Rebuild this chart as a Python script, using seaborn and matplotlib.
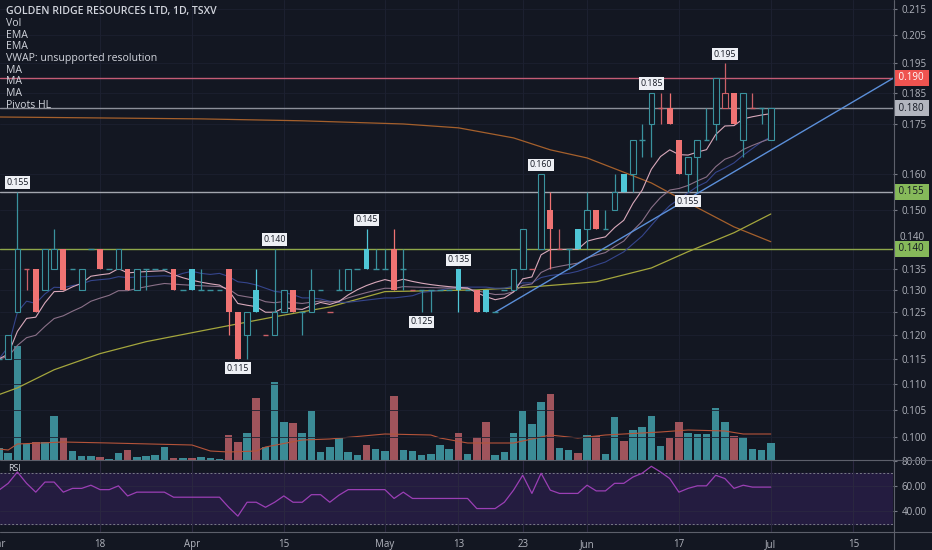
import numpy as np
import pandas as pd
import matplotlib
matplotlib.use('Agg')
import matplotlib.pyplot as plt
from matplotlib.lines import Line2D
from matplotlib.ticker import FixedLocator, NullLocator, FuncFormatter
import matplotlib.transforms as mtransforms
import seaborn as sns

# GOLDEN RIDGE RESOURCES (TSXV), daily bars 1 Mar - 2 Jul 2019, one entry per trading day
opens = [0.115, 0.115, 0.125, 0.135, 0.135, 0.130, 0.135, 0.140, 0.135, 0.130,
         0.140, 0.140, 0.135, 0.135, 0.135, 0.130, 0.135, 0.135, 0.135, 0.135,
         0.130, 0.135, 0.130, 0.130, 0.130, 0.135, 0.125, 0.120, 0.130, 0.120,
         0.120, 0.125, 0.130, 0.125, 0.125, 0.130, 0.125, 0.130, 0.130, 0.135,
         0.140, 0.135, 0.135, 0.140, 0.135, 0.130, 0.130, 0.130, 0.130, 0.130,
         0.135, 0.130, 0.130, 0.130, 0.125, 0.130, 0.130, 0.135, 0.135, 0.140,
         0.150, 0.140, 0.140, 0.145, 0.145, 0.150, 0.145, 0.150, 0.160, 0.160,
         0.170, 0.175, 0.180, 0.180, 0.170, 0.160, 0.165, 0.170, 0.175, 0.180,
         0.185, 0.170, 0.180, 0.180, 0.170]
highs = [0.115, 0.120, 0.155, 0.135, 0.135, 0.140, 0.145, 0.140, 0.135, 0.135,
         0.140, 0.140, 0.135, 0.140, 0.135, 0.135, 0.135, 0.135, 0.135, 0.135,
         0.130, 0.135, 0.135, 0.130, 0.130, 0.135, 0.125, 0.125, 0.135, 0.120,
         0.140, 0.130, 0.130, 0.125, 0.135, 0.130, 0.125, 0.135, 0.135, 0.135,
         0.145, 0.140, 0.140, 0.145, 0.140, 0.130, 0.130, 0.130, 0.130, 0.130,
         0.135, 0.130, 0.130, 0.130, 0.125, 0.130, 0.135, 0.145, 0.135, 0.160,
         0.155, 0.145, 0.140, 0.145, 0.155, 0.150, 0.150, 0.160, 0.160, 0.170,
         0.175, 0.185, 0.185, 0.185, 0.170, 0.165, 0.170, 0.180, 0.190, 0.195,
         0.185, 0.185, 0.185, 0.180, 0.180]
lows = [0.115, 0.115, 0.125, 0.130, 0.125, 0.130, 0.135, 0.130, 0.135, 0.130,
        0.140, 0.135, 0.135, 0.135, 0.130, 0.130, 0.130, 0.135, 0.135, 0.130,
        0.130, 0.130, 0.130, 0.130, 0.130, 0.120, 0.115, 0.115, 0.125, 0.120,
        0.120, 0.125, 0.125, 0.120, 0.125, 0.130, 0.125, 0.130, 0.130, 0.135,
        0.135, 0.135, 0.135, 0.130, 0.130, 0.130, 0.125, 0.125, 0.130, 0.130,
        0.125, 0.130, 0.125, 0.125, 0.125, 0.130, 0.130, 0.135, 0.135, 0.140,
        0.135, 0.140, 0.135, 0.140, 0.140, 0.145, 0.145, 0.150, 0.155, 0.155,
        0.165, 0.165, 0.175, 0.175, 0.160, 0.155, 0.155, 0.170, 0.170, 0.180,
        0.175, 0.165, 0.180, 0.175, 0.170]
closes = [0.115, 0.120, 0.140, 0.135, 0.125, 0.140, 0.140, 0.130, 0.135, 0.135,
          0.140, 0.135, 0.135, 0.140, 0.130, 0.135, 0.135, 0.135, 0.135, 0.130,
          0.130, 0.130, 0.130, 0.130, 0.130, 0.125, 0.115, 0.125, 0.125, 0.120,
          0.125, 0.130, 0.125, 0.125, 0.130, 0.130, 0.125, 0.130, 0.135, 0.135,
          0.135, 0.135, 0.135, 0.130, 0.135, 0.130, 0.130, 0.130, 0.130, 0.130,
          0.130, 0.130, 0.125, 0.125, 0.125, 0.130, 0.135, 0.145, 0.135, 0.160,
          0.145, 0.140, 0.140, 0.140, 0.150, 0.145, 0.145, 0.155, 0.155, 0.170,
          0.170, 0.185, 0.180, 0.175, 0.160, 0.165, 0.170, 0.170, 0.190, 0.185,
          0.175, 0.185, 0.180, 0.180, 0.180]
# volume, thousands of shares
volume = [120, 70, 1140, 160, 180, 180, 440, 230, 90, 40,
          40, 30, 15, 70, 100, 30, 40, 50, 130, 20,
          20, 20, 35, 20, 15, 250, 180, 270, 620, 130,
          780, 380, 370, 270, 490, 80, 130, 220, 80, 50,
          150, 110, 90, 640, 100, 95, 50, 60, 150, 110,
          270, 60, 230, 380, 50, 80, 270, 490, 360, 580,
          660, 120, 100, 70, 250, 240, 60, 430, 190, 300,
          330, 440, 140, 220, 380, 270, 260, 260, 520, 380,
          240, 230, 110, 100, 170]
rsi = [56.6, 62, 71, 62, 55, 63, 63, 55, 58, 58,
       60.5, 57, 57, 60, 52, 55, 55, 55, 55, 51,
       51, 51, 51, 51, 51, 43, 36, 47, 47, 43,
       47, 52, 47, 47, 53, 53, 47, 52.6, 57, 57,
       57, 57, 57, 50, 55, 50, 50, 50, 50, 50,
       50, 50, 42, 42, 42, 47, 56.6, 68.4, 54, 70,
       56.6, 54, 54, 54, 60.5, 56, 56, 62, 62, 67,
       70, 75.5, 71, 65.8, 55, 58, 60, 60, 68.4, 65.8,
       58, 60.5, 59, 59, 59]

# long moving averages (day index, price)
ma50_idx = [0, 2, 6, 11, 16, 22, 30, 36, 42, 52, 58, 65, 71, 75, 80, 84]
ma50_val = [0.1079, 0.1092, 0.1128, 0.1161, 0.1186, 0.1209, 0.1240, 0.1262,
            0.1297, 0.1301, 0.1308, 0.1320, 0.1353, 0.1393, 0.1441, 0.1490]
ma200_idx = [0, 11, 22, 33, 44, 50, 56, 60, 64, 71, 75, 80, 84]
ma200_val = [0.1772, 0.1769, 0.1766, 0.1760, 0.1750, 0.1738, 0.1707, 0.1671,
             0.1647, 0.1575, 0.1520, 0.1456, 0.1418]
volma_idx = [0, 1, 2, 7, 12, 21, 23, 25, 28, 29, 33, 36, 42, 47, 48, 51, 56,
             60, 63, 66, 72, 75, 79, 81, 84]
volma_val = [110, 100, 160, 180, 170, 150, 90, 80, 90, 130, 200, 210, 260, 250,
             220, 170, 170, 250, 220, 250, 280, 300, 290, 260, 260]

# drawn levels, trendline and pivots
levels = [0.190, 0.180, 0.155, 0.140]
trend_idx = [54, 84]
trend_val = [0.125, 0.167]
pivot_idx = [2, 26, 30, 40, 46, 50, 59, 71, 75, 79]
pivot_side = ['H', 'L', 'H', 'H', 'L', 'H', 'H', 'H', 'L', 'H']

tick_idx = [0, 11, 21, 31, 42, 50, 57, 64, 74, 84, 93]
tick_lbl = ['Mar', '18', 'Apr', '15', 'May', '13', '23', 'Jun', '17', 'Jul', '15']
price_ticks = [0.095, 0.100, 0.105, 0.110, 0.115, 0.120, 0.125, 0.130, 0.135,
               0.150, 0.160, 0.175, 0.185, 0.195, 0.205, 0.215]
price_tick_shifted = 0.140   # label pushed up by the level marker
legend_lines = ['GOLDEN RIDGE RESOURCES LTD, 1D, TSXV', 'Vol', 'EMA', 'EMA',
                'VWAP: unsupported resolution', 'MA', 'MA', 'MA', 'Pivots HL']

bg = '#131722'
grid_c = '#1c2030'
txt_c = '#b2b5be'
teal_edge, teal_fill = '#3a929e', '#4fc6d6'
red_edge, red_fill = '#cc6068', '#ef7373'
vol_up, vol_dn = '#3b8b96', '#a0545c'

sns.set_style('dark')
plt.rcParams['font.family'] = ['Open Sans', 'DejaVu Sans']

o, h, l, c = (np.array(a) for a in (opens, highs, lows, closes))
n = len(c)
idx = np.arange(n)
prev = np.r_[c[0], c[:-1]]
up_day = c >= prev

fig = plt.figure(figsize=(9.32, 5.5), dpi=100, facecolor=bg)
W, H = 932, 550
rect = [0, 90 / H, 893 / W, 460 / H]
vax = fig.add_axes(rect)
ax = fig.add_axes(rect, sharex=vax)
rax = fig.add_axes([0, 18 / H, 893 / W, 72 / H], sharex=vax)
vax.set_facecolor(bg)
ax.patch.set_visible(False)
rax.set_facecolor(bg)
for a in (vax, ax, rax):
    for s in a.spines.values():
        s.set_visible(False)

x_lo, x_hi = 0.109, 97.3
vax.set_xlim(x_lo, x_hi)

# volume pane (overlay at bottom of price pane)
vcols = [vol_dn if cc < oo else vol_up for oo, cc in zip(opens, closes)]
vax.bar(idx, volume, width=0.82, color=vcols, linewidth=0, zorder=2)
sns.lineplot(x=volma_idx, y=volma_val, ax=vax, color='#b5543a', lw=0.8, zorder=3)
vax.set_ylim(0, 4600)
vax.set_yticks([])
vax.tick_params(axis='x', length=0, labelbottom=False)
for t in tick_idx:
    vax.axvline(t, color=grid_c, lw=0.8, zorder=0)

# price pane
ax.set_yscale('log')
ax.set_ylim(0.0960, 0.2184)
ax.yaxis.tick_right()
ax.yaxis.set_major_locator(FixedLocator(price_ticks))
ax.yaxis.set_minor_locator(NullLocator())
ax.yaxis.set_major_formatter(FuncFormatter(lambda v, p: f'{v:.3f}'))
ax.tick_params(axis='y', length=3, color='#787b86', labelcolor=txt_c, labelsize=7, pad=3)
ax.tick_params(axis='x', length=0, labelbottom=False)
for t in price_ticks + [price_tick_shifted]:
    ax.axhline(t, color=grid_c, lw=0.6, zorder=0)
shift_tf = mtransforms.offset_copy(ax.get_yaxis_transform(), fig=fig, x=0, y=11, units='dots')
ax.text(1.0 + 6 / 893, price_tick_shifted, f'{price_tick_shifted:.3f}', transform=shift_tf,
        ha='left', va='center', fontsize=7, color=txt_c, clip_on=False)

level_cols = ['#c45c75', '#8c8f99', '#a3a6af', '#8fa84a']
for lv, lc in zip(levels, level_cols):
    ax.axhline(lv, color=lc, lw=1.0, zorder=2)

cs = pd.Series(c)
ema_fast = cs.ewm(span=9, adjust=False).mean()
ema_slow = cs.ewm(span=20, adjust=False).mean()
sma20 = cs.rolling(20, min_periods=1).mean()
sns.lineplot(x=ma200_idx, y=ma200_val, ax=ax, color='#a5602c', lw=0.9, zorder=2)
sns.lineplot(x=ma50_idx, y=ma50_val, ax=ax, color='#a4a63d', lw=0.9, zorder=2)
sns.lineplot(x=idx, y=sma20, ax=ax, color='#35458c', lw=0.8, zorder=2)
sns.lineplot(x=idx, y=ema_slow, ax=ax, color='#8a7088', lw=0.8, zorder=2)
sns.lineplot(x=idx, y=ema_fast, ax=ax, color='#d9a9bb', lw=0.8, zorder=2)

# trendline, extended to the right edge in log-price space
slope = (np.log(trend_val[1]) - np.log(trend_val[0])) / (trend_idx[1] - trend_idx[0])
tx = np.array([trend_idx[0], x_hi])
ty = np.exp(np.log(trend_val[0]) + slope * (tx - trend_idx[0]))
ax.plot(tx, ty, color='#5b8fd9', lw=1.0, zorder=2)

# hollow candles
w = 0.62
for i in idx:
    edge = teal_edge if up_day[i] else red_edge
    fill = teal_fill if up_day[i] else red_fill
    if c[i] < o[i]:
        ax.vlines(i, l[i], h[i], color=fill, lw=0.9, zorder=3)
        ax.bar(i, o[i] - c[i], bottom=c[i], width=w, color=fill, linewidth=0, zorder=4)
    elif c[i] > o[i]:
        ax.vlines(i, l[i], h[i], color=edge, lw=0.9, zorder=3)
        ax.bar(i, c[i] - o[i], bottom=o[i], width=w, facecolor=bg, edgecolor=edge,
               linewidth=0.8, zorder=4)
    else:
        ax.vlines(i, l[i], h[i], color=edge, lw=0.9, zorder=3)
        ax.hlines(c[i], i - w / 2, i + w / 2, color=edge, lw=1.0, zorder=4)

for i, side in zip(pivot_idx, pivot_side):
    val = highs[i] if side == 'H' else lows[i]
    ax.annotate(f'{val:.3f}', (i, val), xytext=(0, 3.5 if side == 'H' else -3.5),
                textcoords='offset points', ha='center',
                va='bottom' if side == 'H' else 'top', fontsize=6.3, color='#131722',
                bbox=dict(boxstyle='square,pad=0.18', fc='#eef0f5', ec='none'), zorder=6)

marker_style = [('#ef5350', 'white'), ('#b2b5be', '#131722'),
                ('#86b95a', '#131722'), ('#86b95a', '#131722')]
for lv, (fc, tc) in zip(levels, marker_style):
    ax.text(1.0 + 3 / 893, lv, f' {lv:.3f} ', transform=ax.get_yaxis_transform(),
            ha='left', va='center', fontsize=7, color=tc, clip_on=False, zorder=7,
            bbox=dict(boxstyle='square,pad=0.25', fc=fc, ec='none'))

# RSI pane
rax.axhspan(30, 70, color='#241c40', zorder=0)
for lv in (70, 30):
    rax.axhline(lv, color='#787b86', lw=0.7, ls=(0, (2, 2)), zorder=1)
for lv in (40, 60):
    rax.axhline(lv, color='#2a2740', lw=0.6, zorder=1)
for t in tick_idx:
    rax.axvline(t, color='#2a2740', lw=0.8, zorder=1)
sns.lineplot(x=idx, y=rsi, ax=rax, color='#9b3fb5', lw=0.9, zorder=2)
rax.set_ylim(23.4, 80.5)
rax.yaxis.tick_right()
rax.set_yticks([40, 60, 80])
rax.yaxis.set_major_formatter(FuncFormatter(lambda v, p: f'{v:.2f}'))
rax.tick_params(axis='y', length=3, color='#787b86', labelcolor=txt_c, labelsize=7, pad=3)
rax.set_xticks(tick_idx)
rax.set_xticklabels(tick_lbl)
rax.tick_params(axis='x', length=3, color='#787b86', labelcolor=txt_c, labelsize=7, pad=2)
rax.set_xlim(x_lo, x_hi)
# first month label sits on a day just left of the visible range; draw it clipped by the edge
rax.text(tick_idx[0] - 0.35, -0.1, tick_lbl[0], transform=rax.get_xaxis_transform(),
         ha='center', va='top', fontsize=7, color=txt_c, clip_on=False)
for a in (vax, ax, rax):
    a.set_xlabel('')
    a.set_ylabel('')
    a.grid(False)
rax.text(8 / 893, 0.88, 'RSI', transform=rax.transAxes, fontsize=6.5, color='#d1d4dc',
         va='center')

# pane separators and price-scale border
sep = '#5d606b'
fig.add_artist(Line2D([893.5 / W, 893.5 / W], [0, 1], color=sep, lw=0.8))
fig.add_artist(Line2D([0, 1], [90 / H, 90 / H], color=sep, lw=0.8))
fig.add_artist(Line2D([0, 1], [18 / H, 18 / H], color=sep, lw=0.8))

for k, line in enumerate(legend_lines):
    fig.text(6 / W, 1 - (11.7 + 11.7 * k) / H, line, fontsize=7.6, color='#d1d4dc',
             va='center', ha='left', fontweight='semibold' if k == 0 else 'normal')

fig.savefig('out.png', dpi=100, facecolor=bg)
